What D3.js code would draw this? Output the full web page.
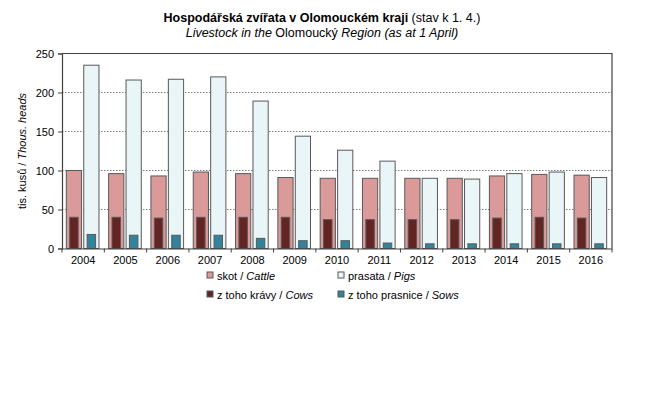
<!DOCTYPE html>
<html><head><meta charset="utf-8">
<script src="https://cdn.jsdelivr.net/npm/d3@7"></script>
<style>body{margin:0;background:#fff}svg{display:block;font-family:"Liberation Sans",Arial,sans-serif}</style>
</head><body><svg id="c" width="645" height="405"></svg>
<script>
const years = ["2004","2005","2006","2007","2008","2009","2010","2011","2012","2013","2014","2015","2016"];
const cattle = [100, 96, 93, 98, 96, 91, 90, 90, 90, 90, 93, 95, 94];
const pigs   = [235, 216, 217, 220, 189, 144, 126, 112, 90, 89, 96, 98, 91];
const cows   = [40, 40, 39, 40, 40, 40, 37, 37, 37, 37, 39, 40, 39];
const sows   = [18, 17, 17, 17, 13, 10, 10, 7, 6, 6, 6, 6, 6];
const yTicks = [0, 50, 100, 150, 200, 250];

const svg = d3.select("#c");
const L = 62, R = 612, T = 53.5, B = 248.5;
const x = d3.scaleBand().domain(years).range([L, R]);
const y = d3.scaleLinear().domain([0, 250]).range([B, T]);
const bw = x.bandwidth();
const stroke = "#595959";

// gridlines
svg.append("g").selectAll("line").data(yTicks.filter(d => d > 0 && d < 250)).join("line")
  .attr("x1", L).attr("x2", R).attr("y1", d => y(d)).attr("y2", d => y(d))
  .attr("stroke", "#7f7f7f").attr("stroke-dasharray", "1.5,1.5").attr("stroke-width", 1);

function bars(data, off, w, fill) {
  svg.append("g").selectAll("rect").data(data).join("rect")
    .attr("x", (d, i) => x(years[i]) + off)
    .attr("y", d => y(d))
    .attr("width", w)
    .attr("height", d => B - y(d))
    .attr("fill", fill).attr("stroke", stroke).attr("stroke-width", 1);
}
const off1 = bw * 0.102, w1 = bw * 0.36, off2 = bw * 0.514;
bars(cattle, off1, w1, "#da9a99");
bars(pigs, off2, w1, "#eaf5f7");
const w2 = bw * 0.2;
bars(cows, off1 + (w1 - w2) / 2, w2, "#632523");
bars(sows, off2 + (w1 - w2) / 2, w2, "#31849b");

// border top/right
svg.append("path").attr("d", `M${L},${T}H${R}V${B}`).attr("fill", "none").attr("stroke", "#404040").attr("stroke-width", 1.2);

// y axis
const ya = svg.append("g").attr("transform", `translate(${L},0)`)
  .call(d3.axisLeft(y).tickValues(yTicks).tickSize(4).tickPadding(4));
ya.select(".domain").attr("stroke", "#404040").attr("stroke-width", 1.2);
ya.selectAll(".tick line").attr("stroke", "#404040");
ya.selectAll("text").attr("font-size", 11).attr("fill", "#000").attr("font-family", "Liberation Sans, Arial");

// x axis
const xa = svg.append("g").attr("transform", `translate(0,${B})`)
  .call(d3.axisBottom(x).tickSize(0).tickPadding(8));
xa.select(".domain").attr("stroke", "#404040").attr("stroke-width", 1.2);
xa.selectAll("text").attr("font-size", 11).attr("fill", "#000").attr("font-family", "Liberation Sans, Arial");
svg.append("g").selectAll("line").data(d3.range(years.length + 1)).join("line")
  .attr("x1", i => L + i * bw).attr("x2", i => L + i * bw)
  .attr("y1", B).attr("y2", B + 4).attr("stroke", "#404040");

// titles
const t1 = svg.append("text").attr("x", 322).attr("y", 22).attr("text-anchor", "middle").attr("font-size", 12.5).attr("fill", "#000");
t1.append("tspan").attr("font-weight", "bold").text("Hospodářská  zvířata v Olomouckém  kraji");
t1.append("tspan").text(" (stav k 1. 4.)");
const t2 = svg.append("text").attr("x", 322).attr("y", 37).attr("text-anchor", "middle").attr("font-size", 12.5).attr("fill", "#000");
t2.append("tspan").attr("font-style", "italic").text("Livestock in the ");
t2.append("tspan").text("Olomoucký");
t2.append("tspan").attr("font-style", "italic").text(" Region (as at 1 April)");

// y label
const yl = svg.append("text").attr("transform", "translate(26,151) rotate(-90)").attr("text-anchor", "middle").attr("font-size", 11).attr("fill", "#000");
yl.append("tspan").text("tis. kusů / ");
yl.append("tspan").attr("font-style", "italic").text("Thous. heads");

// legend
const legend = [
  {x: 207, y: 276, c: "#da9a99", a: "skot / ", b: "Cattle"},
  {x: 338, y: 276, c: "#eaf5f7", a: "prasata / ", b: "Pigs"},
  {x: 207, y: 295, c: "#632523", a: "z toho krávy / ", b: "Cows"},
  {x: 338, y: 295, c: "#31849b", a: "z toho prasnice / ", b: "Sows"}
];
const lg = svg.append("g").selectAll("g").data(legend).join("g");
lg.append("rect").attr("x", d => d.x).attr("y", d => d.y - 4).attr("width", 6).attr("height", 6)
  .attr("fill", d => d.c).attr("stroke", stroke);
const lt = lg.append("text").attr("x", d => d.x + 10).attr("y", d => d.y + 3.5).attr("font-size", 11).attr("fill", "#000");
lt.append("tspan").text(d => d.a);
lt.append("tspan").attr("font-style", "italic").text(d => d.b);
</script></body></html>
